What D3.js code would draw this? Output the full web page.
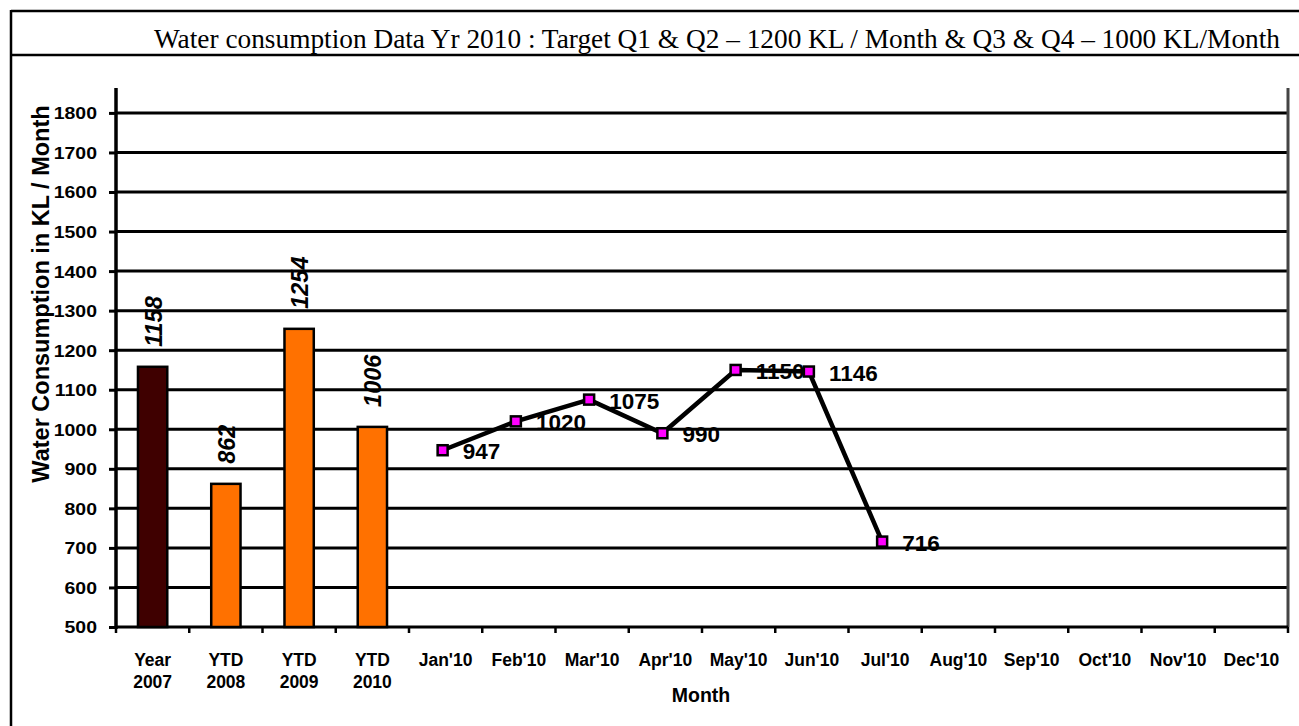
<!DOCTYPE html>
<html><head><meta charset="utf-8">
<script src="https://cdn.jsdelivr.net/npm/d3@7"></script>
<style>body{margin:0;background:#fff}svg{display:block}</style>
</head><body>
<svg id="c" width="1299" height="726"></svg>
<script>
const titleText = "Water consumption Data Yr 2010 : Target Q1 & Q2 \u2013 1200 KL / Month & Q3 & Q4 \u2013 1000 KL/Month";
const categories = [["Year","2007"],["YTD","2008"],["YTD","2009"],["YTD","2010"],["Jan'10"],["Feb'10"],["Mar'10"],["Apr'10"],["May'10"],["Jun'10"],["Jul'10"],["Aug'10"],["Sep'10"],["Oct'10"],["Nov'10"],["Dec'10"]];
const catKeys = categories.map(c => c.join(" "));
const barValues = [1158, 862, 1254, 1006];
const barColors = ["#3f0000", "#ff7100", "#ff7100", "#ff7100"];
const monthValues = [947, 1020, 1075, 990, 1150, 1146, 716];
const yTicks = [500,600,700,800,900,1000,1100,1200,1300,1400,1500,1600,1700,1800];
const yTitle = "Water Consumption in KL / Month";
const xTitle = "Month";

const ARIAL = "Arial, 'Liberation Sans', sans-serif";
const svg = d3.select("#c");
const L = 116, R = 1288, T = 88, B = 627;
const x = d3.scaleBand().domain(catKeys).range([L, R]);
const y = d3.scaleLinear().domain([500, 1863]).range([B, T]);

// frame
svg.append("line").attr("x1",11).attr("x2",1299).attr("y1",11).attr("y2",11).attr("stroke","#000").attr("stroke-width",2.5);
svg.append("line").attr("x1",11).attr("x2",1299).attr("y1",55).attr("y2",55).attr("stroke","#000").attr("stroke-width",2.5);
svg.append("line").attr("x1",11).attr("x2",11).attr("y1",10).attr("y2",726).attr("stroke","#000").attr("stroke-width",2.5);
svg.append("text").attr("x",717).attr("y",48).attr("text-anchor","middle")
  .attr("font-family","'Liberation Serif','Times New Roman',serif").attr("font-size",27)
  .attr("textLength",1126).attr("lengthAdjust","spacingAndGlyphs").text(titleText);

// gridlines
svg.append("g").selectAll("line").data(yTicks.slice(1)).join("line")
  .attr("x1",L).attr("x2",R).attr("y1",d=>y(d)).attr("y2",d=>y(d))
  .attr("stroke","#000").attr("stroke-width",3);

// right border
svg.append("line").attr("x1",R).attr("x2",R).attr("y1",T).attr("y2",B).attr("stroke","#444").attr("stroke-width",3);

// y axis (ticks via d3 axis, labels stretched horizontally)
const ya = svg.append("g").attr("transform",`translate(${L},0)`)
  .call(d3.axisLeft(y).tickValues(yTicks).tickSize(7).tickFormat(""));
ya.select(".domain").remove();
ya.append("line").attr("x1",0).attr("x2",0).attr("y1",T).attr("y2",B+2).attr("stroke","#000").attr("stroke-width",3.5);
ya.selectAll(".tick line").attr("stroke","#000").attr("stroke-width",3);
ya.selectAll(".tick").append("text").attr("transform","translate(-19,0) scale(1.18,1)")
  .attr("text-anchor","end").attr("dy","0.36em")
  .attr("font-family",ARIAL).attr("font-weight","bold").attr("font-size",16.5).attr("fill","#000")
  .text(d=>d);

// x axis
svg.append("line").attr("x1",L).attr("x2",R).attr("y1",B).attr("y2",B).attr("stroke","#000").attr("stroke-width",3);
svg.append("g").selectAll("line").data(catKeys.concat(["end"])).join("line")
  .attr("x1",(d,i)=> i<catKeys.length ? x(d) : R).attr("x2",(d,i)=> i<catKeys.length ? x(d) : R)
  .attr("y1",B).attr("y2",B+6).attr("stroke","#000").attr("stroke-width",2.5);

const xl = svg.append("g").attr("font-family",ARIAL).attr("font-weight","bold").attr("font-size",17.5).attr("text-anchor","middle");
categories.forEach((c,i)=>{
  const cxp = x(catKeys[i]) + x.bandwidth()/2;
  const t = xl.append("text").attr("x", cxp).attr("y", 666);
  c.forEach((s,j)=> t.append("tspan").attr("x", cxp).attr("dy", j===0?0:21.5).text(s));
});
svg.append("text").attr("x",701).attr("y",702).attr("text-anchor","middle")
  .attr("font-family",ARIAL).attr("font-weight","bold").attr("font-size",19.5).text(xTitle);
svg.append("text").attr("transform","translate(49,294) rotate(-90)").attr("text-anchor","middle")
  .attr("font-family",ARIAL).attr("font-weight","bold").attr("font-size",23.5).text(yTitle);

// bars
const bw = x.bandwidth()*0.4;
const barData = barValues.map((v,i)=>({k:catKeys[i], v, c:barColors[i]}));
svg.append("g").selectAll("rect").data(barData).join("rect")
  .attr("x",d=>x(d.k)+x.bandwidth()/2-bw/2).attr("width",bw)
  .attr("y",d=>y(d.v)).attr("height",d=>B-y(d.v))
  .attr("fill",d=>d.c).attr("stroke","#000").attr("stroke-width",2.5);
svg.append("g").selectAll("text").data(barData).join("text")
  .attr("transform",d=>`translate(${x(d.k)+x.bandwidth()/2+9},${y(d.v)-20}) rotate(-90)`)
  .attr("font-family",ARIAL).attr("font-weight","bold").attr("font-style","italic").attr("font-size",23.5)
  .text(d=>d.v);

// line
const lineData = monthValues.map((v,i)=>({k:catKeys[i+4], v}));
const cx = d => x(d.k)+x.bandwidth()/2 - 3;
svg.append("path").datum(lineData)
  .attr("d", d3.line().x(cx).y(d=>y(d.v)))
  .attr("fill","none").attr("stroke","#000").attr("stroke-width",4.5);
svg.append("g").selectAll("rect").data(lineData).join("rect")
  .attr("x",d=>cx(d)-5).attr("y",d=>y(d.v)-5).attr("width",10).attr("height",10)
  .attr("fill","#ff00ff").attr("stroke","#000").attr("stroke-width",2.5);
svg.append("g").selectAll("text").data(lineData).join("text")
  .attr("x",d=>cx(d)+20).attr("y",d=>y(d.v)+9)
  .attr("font-family",ARIAL).attr("font-weight","bold").attr("font-size",22.5)
  .text(d=>d.v);
</script>
</body></html>
